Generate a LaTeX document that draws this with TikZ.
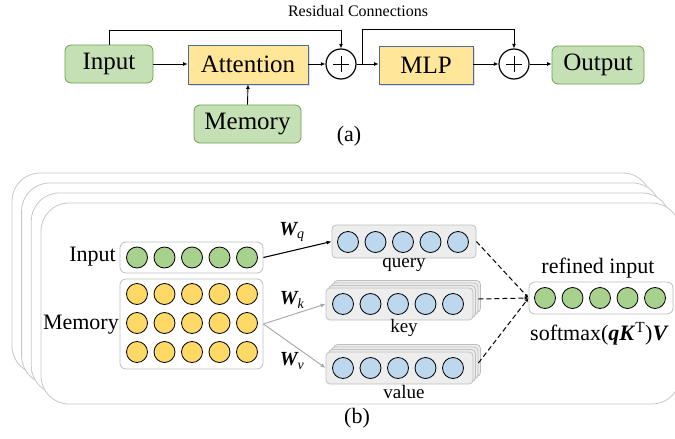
\documentclass[tikz,border=0pt]{standalone}
\usepackage{fontspec}
\setmainfont{Liberation Serif}
\usetikzlibrary{arrows.meta,shadows}
\definecolor{gbox}{HTML}{C5E0B4}
\definecolor{gboxline}{HTML}{6FA04E}
\definecolor{ybox}{HTML}{FFE699}
\definecolor{yboxline}{HTML}{4F6A96}
\definecolor{gcircle}{HTML}{A9D18E}
\definecolor{ycircle}{HTML}{FFD966}
\definecolor{bcircle}{HTML}{BDD7EE}
\definecolor{stackline}{HTML}{C8C8C8}
\definecolor{panel}{HTML}{EDEDED}
\definecolor{panelline}{HTML}{BFBFBF}
\definecolor{grayarrow}{HTML}{A6A6A6}
\begin{document}
\begin{tikzpicture}[x=1pt,y=-1pt,
  greenbox/.style={draw=gboxline,fill=gbox,line width=0.8pt,rounded corners=6pt,inner sep=0pt,font=\fontsize{25}{28}\selectfont},
  yellowbox/.style={draw=yboxline,fill=ybox,line width=0.8pt,inner sep=0pt,font=\fontsize{25}{28}\selectfont,
    drop shadow={opacity=0.25,shadow xshift=1.5pt,shadow yshift=-1.5pt}},
  plusnode/.style={circle,draw=black,line width=1.2pt,minimum size=30pt,inner sep=0pt,
    path picture={\draw[line width=0.8pt] ([xshift=-7.8pt]path picture bounding box.center) -- ([xshift=7.8pt]path picture bounding box.center);
      \draw[line width=0.8pt] ([yshift=-7.8pt]path picture bounding box.center) -- ([yshift=7.8pt]path picture bounding box.center);}},
  flow/.style={line width=0.9pt,-{Latex[length=4.5pt,width=4pt]}},
  stackbox/.style={draw=stackline,fill=white,line width=0.8pt,rounded corners=28pt},
  whitebox/.style={draw=panelline,fill=white,line width=0.8pt,rounded corners=6pt,inner sep=0pt},
  panelbox/.style={draw=panelline,fill=panel,line width=0.8pt,rounded corners=4pt,inner sep=0pt},
  dot/.style={circle,draw=black,line width=0.8pt,minimum size=21pt,inner sep=0pt},
  lbl/.style={inner sep=0pt,font=\fontsize{22}{24}\selectfont},
  smalllbl/.style={inner sep=0pt,font=\fontsize{19}{21}\selectfont},
  wlbl/.style={inner sep=0pt,font=\fontsize{20}{22}\selectfont\bfseries\itshape},
  dashflow/.style={dashed,dash pattern=on 5pt off 3pt,line width=1pt,-{Latex[length=4pt,width=3.5pt]}},
]
\useasboundingbox (0,0) rectangle (675,439);

% ---------------- (a) ----------------
\node[inner sep=0pt,font=\fontsize{16}{18}\selectfont] (rc) at (358,11) {Residual Connections};
\node[greenbox,minimum width=88pt,minimum height=38pt] (ain) at (109,64) {Input};
\node[yellowbox,minimum width=120pt,minimum height=39pt] (att) at (248,64.5) {Attention};
\node[plusnode] (p1) at (341,64) {};
\node[yellowbox,minimum width=94pt,minimum height=38pt] (mlp) at (426,65) {MLP};
\node[plusnode] (p2) at (514,64) {};
\node[greenbox,minimum width=92pt,minimum height=38pt] (aout) at (598,65) {Output};
\node[greenbox,minimum width=107pt,minimum height=38pt] (amem) at (247.5,124) {Memory};
\node[inner sep=0pt,font=\fontsize{22}{24}\selectfont] (la) at (349,136) {(a)};

\draw[flow] (ain.east) -- (ain.east -| att.west);
\draw[flow] (att.east |- p1) -- (p1.west);
\coordinate (split) at (362,64);
\draw[flow] (p1.east) -- (mlp.west |- p1);
\draw[flow] (mlp.east |- p2) -- (p2.west);
\draw[flow] (p2.east) -- (aout.west |- p2);
\draw[flow] (amem.north) -- (att.south);
\draw[flow] (ain.north) -- ++(0,-14) -| (p1.north);
\draw[flow] (split) -- (362,29) -| (p2.north);

% ---------------- (b) ----------------
\draw[stackbox] (12,173) rectangle (651,374);
\draw[stackbox] (21.6,183) rectangle (660.6,384);
\draw[stackbox] (31.3,193) rectangle (670.3,394);
\draw[stackbox] (41,203) rectangle (680,404);

% input
\node[lbl,anchor=east] (lin) at (116,257) {Input};
\node[whitebox,minimum width=143pt,minimum height=31pt] (binbox) at (191.5,257.5) {};
\foreach \i in {1,...,5}{
  \pgfmathsetmacro\xx{137+27.5*(\i-1)}
  \node[dot,fill=gcircle] (bi\i) at (\xx,257.5) {};
}
% memory
\node[lbl,anchor=east] (lmem) at (119,325) {Memory};
\node[whitebox,minimum width=143pt,minimum height=90pt] (bmem) at (191.5,324) {};
\foreach \r/\yy in {1/294,2/323,3/352}{
  \foreach \i in {1,...,5}{
    \pgfmathsetmacro\xx{137+27.5*(\i-1)}
    \node[dot,fill=ycircle] (bm\r\i) at (\xx,\yy) {};
  }
}
% query
\node[panelbox,minimum width=144pt,minimum height=33pt] (qbox) at (404,241.5) {};
\foreach \i in {1,...,5}{
  \pgfmathsetmacro\xx{348+27.5*(\i-1)}
  \node[dot,fill=bcircle] (bq\i) at (\xx,242) {};
}
\node[smalllbl] (lq) at (404,265) {query};
% key
\node[panelbox,minimum width=147pt,minimum height=32pt] (kb3) at (407,296.5) {};
\node[panelbox,minimum width=147pt,minimum height=32pt] (kb2) at (404.5,299) {};
\node[panelbox,minimum width=147pt,minimum height=32pt] (kb1) at (402,301.5) {};
\node[panelbox,minimum width=147pt,minimum height=32pt] (kbox) at (399.5,304) {};
\foreach \i in {1,...,5}{
  \pgfmathsetmacro\xx{343+27.5*(\i-1)}
  \node[dot,fill=bcircle] (bk\i) at (\xx,304) {};
}
\node[smalllbl] (lk) at (404,328) {key};
% value
\node[panelbox,minimum width=147pt,minimum height=32pt] (vb3) at (407,360.5) {};
\node[panelbox,minimum width=147pt,minimum height=32pt] (vb2) at (404.5,363) {};
\node[panelbox,minimum width=147pt,minimum height=32pt] (vb1) at (402,365.5) {};
\node[panelbox,minimum width=147pt,minimum height=32pt] (vbox) at (399.5,368) {};
\foreach \i in {1,...,5}{
  \pgfmathsetmacro\xx{343+27.5*(\i-1)}
  \node[dot,fill=bcircle] (bv\i) at (\xx,368) {};
}
\node[smalllbl] (lv) at (404,392) {value};
% refined
\node[lbl] (lref) at (598,268) {refined input};
\node[whitebox,minimum width=144pt,minimum height=32pt] (rbox) at (601,298) {};
\foreach \i in {1,...,5}{
  \pgfmathsetmacro\xx{545+27.5*(\i-1)}
  \node[dot,fill=gcircle] (br\i) at (\xx,298) {};
}
\node[inner sep=0pt,anchor=west,font=\fontsize{22}{24}\selectfont] (lsm) at (530,334) {softmax(\textbf{\textit{qK}}\textsuperscript{T})\textbf{\textit{V}}};

% arrows
\draw[line width=1.1pt,-{Latex[length=5pt,width=4pt]}] (binbox.east) -- (qbox.west);
\draw[line width=0.9pt,draw=grayarrow,-{Latex[length=5pt,width=4pt]}] (bmem.east) -- (kbox.west);
\draw[line width=0.9pt,draw=grayarrow,-{Latex[length=5pt,width=4pt]}] (bmem.east) -- (vbox.west);
\node[wlbl] (wq) at (292,232) {W\textsubscript{\mdseries q}};
\node[wlbl] (wk) at (292,300) {W\textsubscript{\mdseries k}};
\node[wlbl] (wv) at (292,361) {W\textsubscript{\mdseries v}};

\draw[dashflow] (qbox.east) -- (rbox.west);
\draw[dashflow] (kb2.east) -- (rbox.west);
\draw[dashflow] (vb2.east) -- (rbox.west);

\node[lbl] (lb) at (357,418) {(b)};
\end{tikzpicture}
\end{document}
